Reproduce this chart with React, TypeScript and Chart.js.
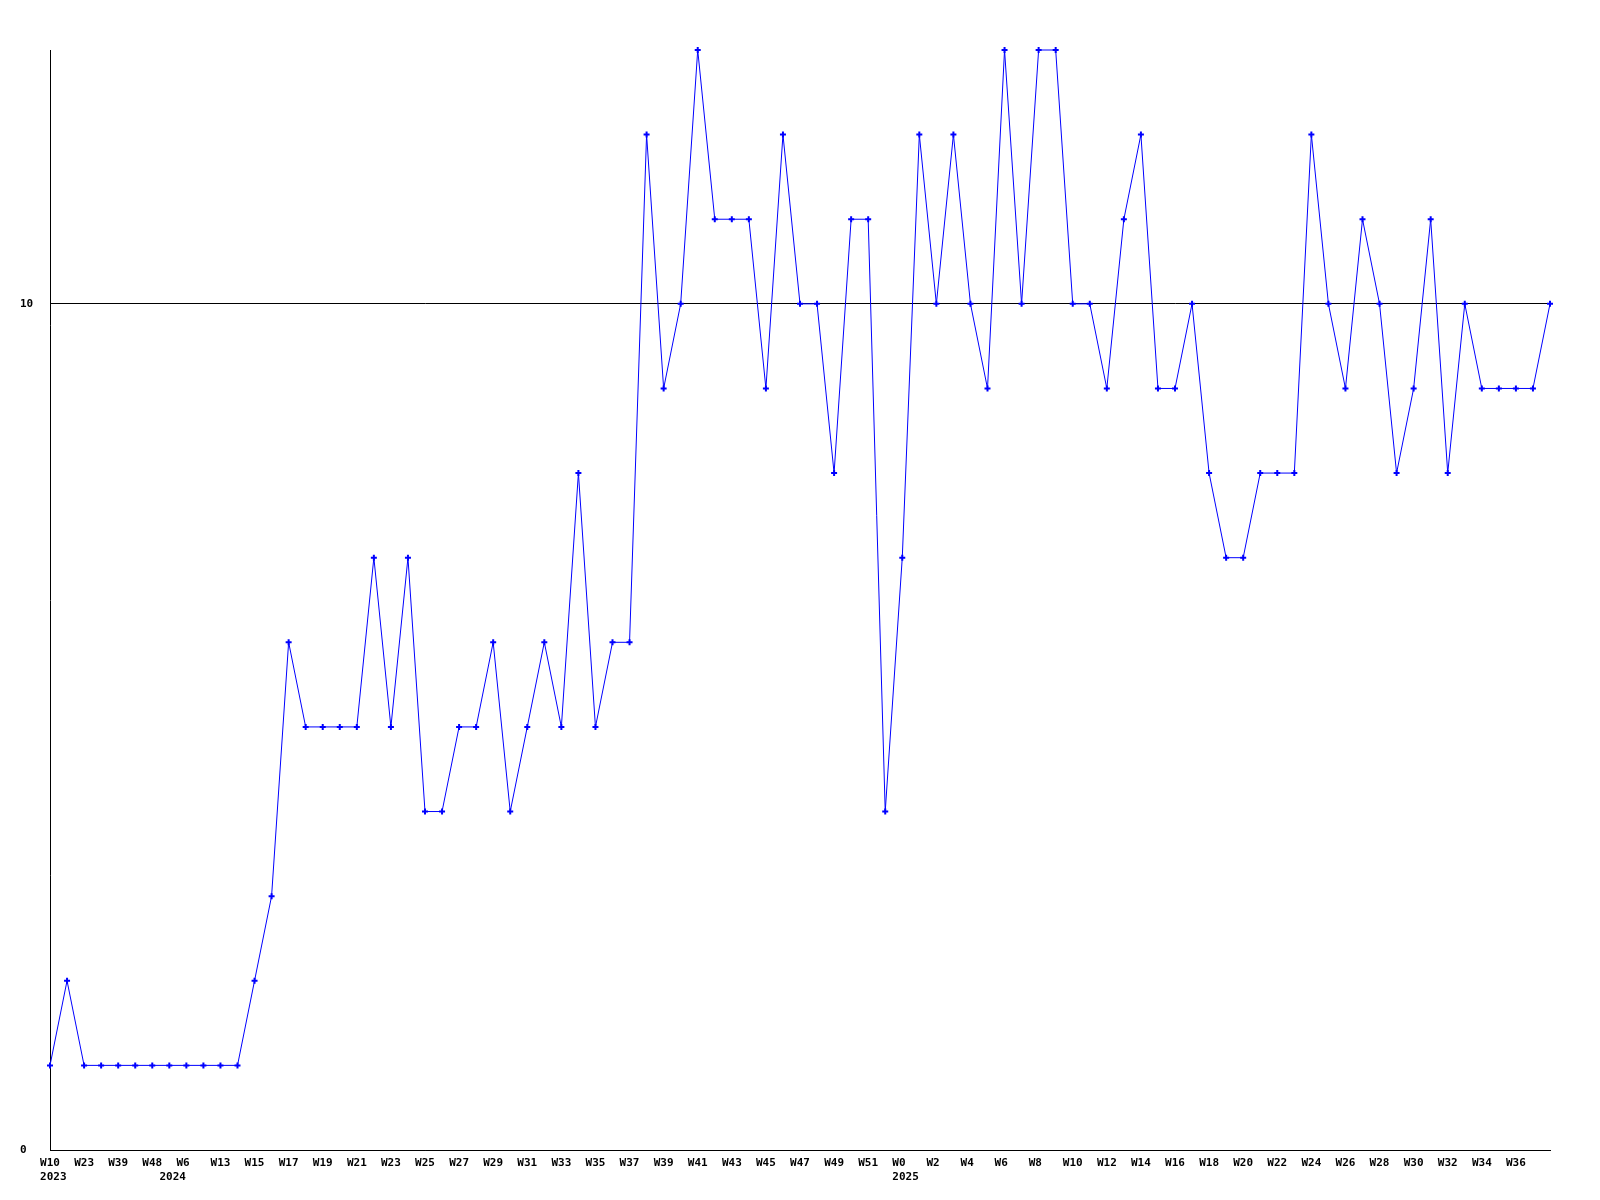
import React, { useEffect, useRef } from "react";
import { Chart, registerables } from "chart.js";

Chart.register(...registerables);

// Week categories (one per data point)
const weekLabels: string[] = [
  "W10", "W17", "W23", "W31", "W39", "W44", "W48", "W1", "W6", "W12",
  "W13", "W14", "W15", "W16", "W17", "W18", "W19", "W20", "W21", "W22",
  "W23", "W24", "W25", "W26", "W27", "W28", "W29", "W30", "W31", "W32",
  "W33", "W34", "W35", "W36", "W37", "W38", "W39", "W40", "W41", "W42",
  "W43", "W44", "W45", "W46", "W47", "W48", "W49", "W50", "W51", "W52",
  "W0", "W1", "W2", "W3", "W4", "W5", "W6", "W7", "W8", "W9",
  "W10", "W11", "W12", "W13", "W14", "W15", "W16", "W17", "W18", "W19",
  "W20", "W21", "W22", "W23", "W24", "W25", "W26", "W27", "W28", "W29",
  "W30", "W31", "W32", "W33", "W34", "W35", "W36", "W37", "W38",
];

// Year markers: index of the first point of each year
const yearStarts: number[] = [0, 7, 50];
const yearNames: string[] = ["2023", "2024", "2025"];

const values: number[] = [
  1, 2, 1, 1, 1, 1, 1, 1, 1, 1, 1, 1, 2, 3, 6, 5, 5, 5, 5, 7,
  5, 7, 4, 4, 5, 5, 6, 4, 5, 6, 5, 8, 5, 6, 6, 12, 9, 10, 13, 11,
  11, 11, 9, 12, 10, 10, 8, 11, 11, 4, 7, 12, 10, 12, 10, 9, 13, 10, 13, 13,
  10, 10, 9, 11, 12, 9, 9, 10, 8, 7, 7, 8, 8, 8, 12, 10, 9, 11, 10, 8,
  9, 11, 8, 10, 9, 9, 9, 9, 10,
];

const yTicks: number[] = [0, 10];
const yMin = 0;
const yMax = 13;

const FONT = { family: "'DejaVu Sans Mono', monospace", size: 11, weight: "bold" as const, lineHeight: 1.3 };

function padWeek(s: string): string {
  return s.length < 3 ? s + " " : s;
}

export default function App() {
  const canvasRef = useRef<HTMLCanvasElement | null>(null);

  useEffect(() => {
    if (!canvasRef.current) return;
    const lastIdx = weekLabels.length - 1;
    const chart = new Chart(canvasRef.current, {
      type: "line",
      data: {
        labels: weekLabels,
        datasets: [
          {
            data: values,
            borderColor: "#0000ff",
            backgroundColor: "#0000ff",
            borderWidth: 1,
            tension: 0,
            pointStyle: "cross",
            pointRadius: 3,
            pointBorderWidth: 2,
            pointBorderColor: "#0000ff",
            pointBackgroundColor: "#0000ff",
            clip: false as any,
            fill: false,
          },
        ],
      },
      options: {
        animation: false,
        responsive: true,
        maintainAspectRatio: false,
        layout: { padding: { left: 20, right: 50, top: 50, bottom: 0 } },
        plugins: { legend: { display: false }, tooltip: { enabled: false } },
        scales: {
          x: {
            type: "category",
            offset: false,
            grid: { display: false, drawTicks: false },
            border: { display: true, color: "#000000", width: 1 },
            afterFit: (scale: any) => {
              scale.height = 50;
            },
            ticks: {
              autoSkip: false,
              maxRotation: 0,
              minRotation: 0,
              padding: 6,
              color: "#000000",
              font: FONT,
              callback: (_v: any, idx: number) => {
                const yi = yearStarts.indexOf(idx);
                const week = idx % 2 === 0 && idx < lastIdx ? padWeek(weekLabels[idx]) : "";
                if (yi >= 0) return [week, " " + yearNames[yi]];
                return week;
              },
            },
          },
          y: {
            min: yMin,
            max: yMax,
            afterBuildTicks: (scale: any) => {
              scale.ticks = yTicks.map((v) => ({ value: v }));
            },
            afterFit: (scale: any) => {
              scale.width = 30;
            },
            grid: { color: "#000000", lineWidth: 1, drawTicks: false },
            border: { display: true, color: "#000000", width: 1 },
            ticks: {
              color: "#000000",
              font: FONT,
              crossAlign: "far",
              padding: 4,
            },
          },
        },
      },
    });
    return () => chart.destroy();
  }, []);

  return (
    <div style={{ position: "fixed", left: 0, top: 0, width: 1600, height: 1200, background: "#ffffff" }}>
      <canvas ref={canvasRef} />
    </div>
  );
}
